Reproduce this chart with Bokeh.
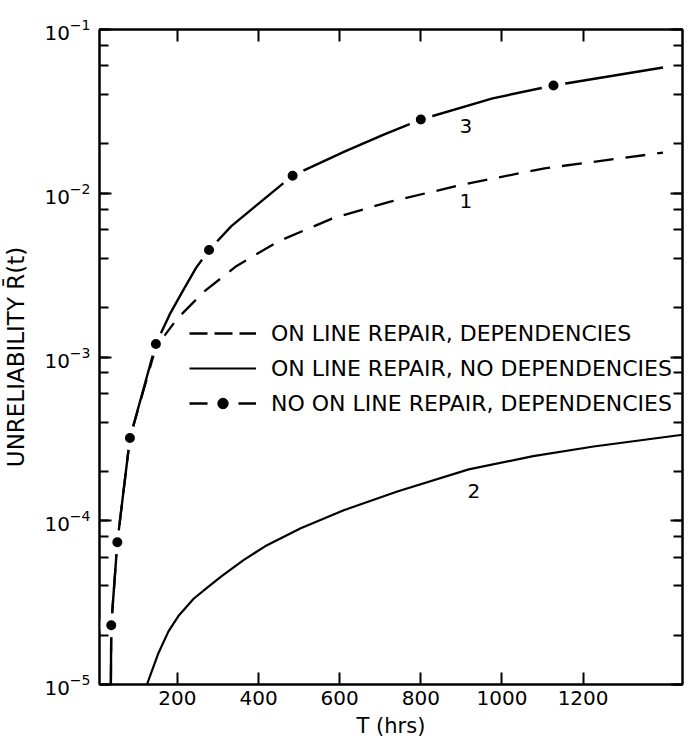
from bokeh.plotting import figure
from bokeh.models import (FixedTicker, LinearAxis, LogAxis, LogTicker, Range1d,
                          Legend, LegendItem)
from bokeh.core.properties import value
from bokeh.embed import file_html
from bokeh.resources import INLINE

# ---------------- data ----------------
X_TICKS = [200, 400, 600, 800, 1000, 1200]
X_TICK_LABELS = ["200", "400", "600", "800", "1000", "1200"]

# curve 1: on line repair, dependencies (dashed)
T1 = [36, 37, 52, 83, 147, 200, 265, 346, 450, 581, 725, 904, 1105, 1397]
R1 = [1.0e-5, 2.3e-5, 7.4e-5, 3.2e-4, 1.15e-3, 1.72e-3, 2.5e-3, 3.6e-3,
      5.1e-3, 7.0e-3, 8.9e-3, 1.13e-2, 1.42e-2, 1.77e-2]

# curve 2: on line repair, no dependencies (solid)
T2 = [125, 152, 178, 204, 240, 275, 310, 363, 416, 504, 610, 742, 918,
      1077, 1226, 1445]
R2 = [1.0e-5, 1.53e-5, 2.11e-5, 2.65e-5, 3.34e-5, 3.93e-5, 4.61e-5, 5.75e-5,
      6.98e-5, 9.0e-5, 1.16e-4, 1.51e-4, 2.06e-4, 2.48e-4, 2.84e-4, 3.35e-4]

# curve 3: no on line repair, dependencies (solid with dots)
T3 = [36, 37, 52, 83, 147, 181, 212, 246, 278, 333, 394, 484, 613, 710,
      800, 977, 1127, 1397]
R3 = [1.0e-5, 2.3e-5, 7.4e-5, 3.2e-4, 1.2e-3, 1.82e-3, 2.5e-3, 3.5e-3,
      4.5e-3, 6.3e-3, 8.4e-3, 1.28e-2, 1.8e-2, 2.29e-2, 2.82e-2, 3.8e-2,
      4.55e-2, 5.86e-2]
T3_DOTS = [37, 52, 83, 147, 278, 484, 800, 1127]
R3_DOTS = [2.3e-5, 7.4e-5, 3.2e-4, 1.2e-3, 4.5e-3, 1.28e-2, 2.82e-2, 4.55e-2]

LEGEND_LABELS = ["ON LINE REPAIR, DEPENDENCIES",
                 "ON LINE REPAIR, NO DEPENDENCIES",
                 "NO ON LINE REPAIR, DEPENDENCIES"]

CURVE_LABELS = ["1", "2", "3"]
CURVE_LABEL_T = [911, 931, 911]
CURVE_LABEL_R = [9.0e-3, 1.53e-4, 2.56e-2]

X_LABEL = "T (hrs)"
Y_LABEL = "UNRELIABILITY R\u0304(t)"

FONT = "DejaVu Sans"
INK = "black"
NAN = float("nan")

# ---------------- figure ----------------
# (Bokeh's page template sets the body margin to 0, so the figure fills the window)
p = figure(width=697, height=744, y_axis_type="log",
           x_range=Range1d(8, 1445), y_range=Range1d(1e-5, 1e-1),
           output_backend="svg", toolbar_location=None,
           min_border_left=90, min_border_right=15,
           min_border_top=29, min_border_bottom=60)
p.grid.visible = False
p.outline_line_color = INK
p.outline_line_width = 2
p.background_fill_color = "white"
p.border_fill_color = "white"


def style_axis(ax, labels=True):
    ax.axis_line_color = INK
    ax.axis_line_width = 2
    ax.major_tick_line_color = INK
    ax.minor_tick_line_color = INK
    ax.major_tick_line_width = 2
    ax.minor_tick_line_width = 2
    ax.major_tick_in = 12
    ax.major_tick_out = 0
    ax.minor_tick_in = 9
    ax.minor_tick_out = 0
    ax.major_label_text_font = FONT
    if labels:
        ax.major_label_text_font_size = "20px"
        ax.major_label_text_color = INK
    else:
        ax.major_label_text_font_size = "1px"
        ax.major_label_text_color = None


xa = p.xaxis[0]
xa.ticker = FixedTicker(ticks=X_TICKS)
xa.major_label_overrides = dict(zip(X_TICKS, X_TICK_LABELS))
style_axis(xa)
xa.major_label_standoff = 6
xa.axis_label = X_LABEL
xa.axis_label_text_font = FONT
xa.axis_label_text_font_size = "21px"
xa.axis_label_text_font_style = "normal"
xa.axis_label_text_color = INK
xa.axis_label_standoff = 6

ya = p.yaxis[0]
ya.ticker = LogTicker()
style_axis(ya)
ya.major_label_standoff = 9
ya.axis_label = Y_LABEL
ya.axis_label_text_font = FONT
ya.axis_label_text_font_size = "23px"
ya.axis_label_text_font_style = "normal"
ya.axis_label_text_color = INK
ya.axis_label_standoff = 12

top = LinearAxis(ticker=FixedTicker(ticks=X_TICKS))
style_axis(top, labels=False)
p.add_layout(top, "above")

right = LogAxis(ticker=LogTicker())
style_axis(right, labels=False)
p.add_layout(right, "right")

# ---------------- curves ----------------
r1 = p.line(T1, R1, line_color=INK, line_width=2.3, line_dash="20 12")
r2 = p.line(T2, R2, line_color=INK, line_width=2.2)
r3 = p.line(T3, R3, line_color=INK, line_width=2.4)
p.scatter(T3_DOTS, R3_DOTS, marker="circle", size=17, fill_color=INK,
          line_color="white", line_width=7)

p.text(x=CURVE_LABEL_T, y=CURVE_LABEL_R, text=CURVE_LABELS,
       text_font=value(FONT), text_font_size=value("20px"),
       text_align="center", text_baseline="middle", text_color=INK)

# legend-only samples (one undrawable NaN point each, so only the key shows)
leg1 = p.line(x=[NAN], y=[NAN], line_color=INK, line_width=2.3,
              line_dash="18 7")
leg3l = p.line(x=[NAN], y=[NAN], line_color=INK, line_width=2.4,
               line_dash="18 31")
leg3d = p.scatter(x=[NAN], y=[NAN], marker="circle", fill_color=INK,
                  line_color=INK, line_width=1)

legend = Legend(items=[
    LegendItem(label=LEGEND_LABELS[0], renderers=[leg1]),
    LegendItem(label=LEGEND_LABELS[1], renderers=[r2]),
    LegendItem(label=LEGEND_LABELS[2], renderers=[leg3l, leg3d]),
], location=(90, 268))
legend.border_line_color = None
legend.background_fill_alpha = 0
legend.padding = 0
legend.margin = 0
legend.spacing = 9
legend.glyph_width = 67
legend.glyph_height = 26
legend.label_height = 26
legend.label_standoff = 15
legend.label_text_font = FONT
legend.label_text_font_size = "22px"
legend.label_text_color = INK
p.add_layout(legend)

open("out.html", "w").write(file_html(p, INLINE))
